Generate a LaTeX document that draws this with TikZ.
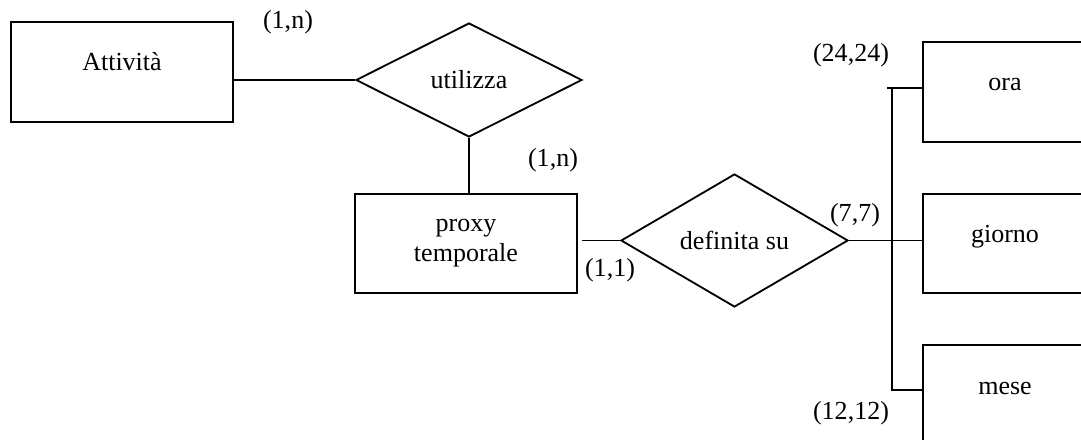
\documentclass[tikz,border=0pt]{standalone}
\usepackage{fontspec}
\setmainfont{Liberation Serif}
\usetikzlibrary{positioning,shapes.geometric,calc}

\begin{document}
\begin{tikzpicture}[x=0.025cm,y=-0.025cm,line width=1.3pt,
      font=\fontsize{18.5}{21.5}\selectfont,
      entity/.style={draw,rectangle,inner sep=0pt,minimum width=5.55cm,minimum height=2.5cm,align=center},
      oneline/.style={text height=.45cm,text depth=.5cm},
      rel/.style={draw,diamond,inner sep=0pt},
      card/.style={inner sep=0pt}]
    \useasboundingbox (0,0) rectangle (1081,440);
    \clip (0,0) rectangle (1081,440);

    % entities
    \node[entity,oneline] (attivita) at (122,72) {Attività};
    \node[entity,minimum height=2.475cm] (proxy) at (466,243.5) {proxy\\temporale};
    \node[entity,oneline,minimum width=4.1cm] (ora) at (1005,92) {ora};
    \node[entity,oneline,minimum width=4.1cm,minimum height=2.475cm] (giorno) at (1005,243.5) {giorno};
    \node[entity,oneline,minimum width=4.1cm] (mese) at (1005,395) {mese};

    % relationships
    \node[rel,minimum width=5.65cm,minimum height=2.85cm] (utilizza) at (469,80) {utilizza};
    \node[rel,minimum width=5.675cm,minimum height=3.325cm] (definita) at (734.5,240.5) {definita su};

    \draw (attivita.east |- utilizza.west) -- (utilizza.west);
    \draw (utilizza.south) -- (utilizza.south |- proxy.north);
    \draw[shorten <=.1cm] (proxy.east |- definita.west) -- (definita.west);
    \draw (definita.east) -- (definita.east -| giorno.west);

    % the three time units hang off one bus
    \coordinate (busN) at (892,88);
    \coordinate (busS) at (892,390);
    \draw ([xshift=-.125cm]busN) -- (busN -| ora.west);
    \draw (busN) -- (busS) -- (busS -| mese.west);

    % cardinalities
    \node[card] (cardAtt) at (288,22) {(1,n)};
    \node[card] (cardUso) at (553,160) {(1,n)};
    \node[card] (cardProxy) at (610,270) {(1,1)};
    \node[card] (cardGiorno) at (855,215) {(7,7)};
    \node[card] (cardOra) at (851,55) {(24,24)};
    \node[card] (cardMese) at (851,413) {(12,12)};
  \end{tikzpicture}
\end{document}
